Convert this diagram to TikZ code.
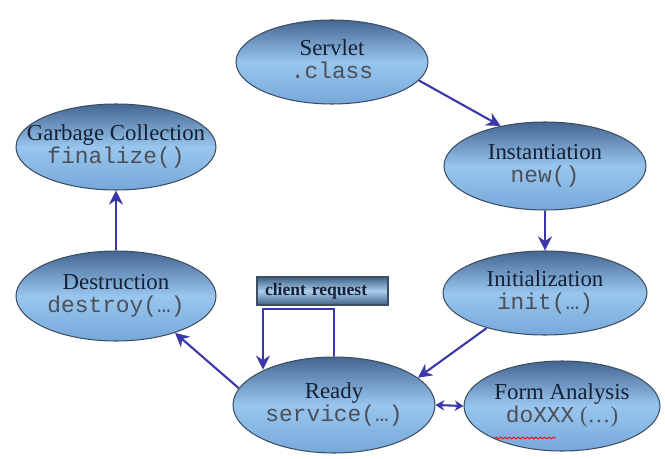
\documentclass[tikz,border=0pt]{standalone}
\usepackage{fontspec}
\setmainfont{Liberation Serif}
\setmonofont{Liberation Mono}
\usetikzlibrary{shapes.geometric,arrows.meta,decorations.pathmorphing}

\definecolor{elltop}{RGB}{68,102,146}
\definecolor{ellmid}{RGB}{152,198,238}
\definecolor{ellbot}{RGB}{118,168,218}
\definecolor{ellline}{RGB}{62,78,98}
\definecolor{crqdark}{RGB}{62,96,132}
\definecolor{crqlight}{RGB}{172,206,236}
\definecolor{flowblue}{RGB}{58,56,168}
\definecolor{txtdark}{RGB}{22,32,52}
\definecolor{codegray}{RGB}{78,78,86}

\newcommand{\stagetext}[2]{\makebox[0pt]{\begin{tabular}{@{}c@{}}#1\\[-1pt]\textcolor{codegray}{\ttfamily #2}\end{tabular}}}

\tikzset{
  stage/.style={ellipse, draw=ellline, line width=0.6pt,
    top color=elltop, bottom color=ellbot, middle color=ellmid,
    inner sep=0pt, text=txtdark, font=\fontsize{13}{14}\selectfont},
  crq/.style={rectangle, draw=ellline, line width=0.6pt,
    top color=crqdark, bottom color=crqdark, middle color=crqlight,
    minimum height=0.56cm, text width=2.3cm, inner xsep=0.16cm, inner ysep=0pt,
    align=left, text=txtdark, font=\bfseries\fontsize{10}{11}\selectfont},
  flow/.style={draw=flowblue, line width=1.2pt, -{Stealth[length=8pt,width=8pt]}},
}

\begin{document}
\begin{tikzpicture}[x=0.02cm, y=-0.02cm]
    \useasboundingbox (0,0) rectangle (665,459);

    \node[stage, minimum width=3.84cm, minimum height=1.68cm] (servlet) at (332,62) {\stagetext{Servlet}{.class}};
    \node[stage, minimum width=4.04cm, minimum height=1.76cm] (inst) at (545,166) {\stagetext{Instantiation}{new()}};
    \node[stage, minimum width=4.08cm, minimum height=1.68cm] (init) at (545,293) {\stagetext{Initialization}{init(…)}};
    \node[stage, minimum width=4cm, minimum height=1.72cm] (garbage) at (116,147) {\stagetext{Garbage Collection}{finalize()}};
    \node[stage, minimum width=4cm, minimum height=1.8cm] (destr) at (116,296) {\stagetext{Destruction}{destroy(…)}};
    \node[stage, minimum width=4.04cm, minimum height=1.92cm] (ready) at (334,405) {\stagetext{Ready}{service(…)}};
    \node[stage, minimum width=3.92cm, minimum height=1.8cm] (form) at (562,406) {\stagetext{Form Analysis}{doXXX\textrm{ (…)}}};

    \node[crq] (request) at (322.5,291) {client request};

    \coordinate (loopL) at (263,309);

    \draw[flow] (servlet.-12) -- (inst.138);
    \draw[flow] (inst.south) -- (init.north);
    \draw[flow] (init.211) -- (ready.18);
    \draw[flow] (ready.170) -- (destr.-32);
    \draw[flow] (destr.north) -- (garbage.south);
    \draw[flow] (ready.north) |- (loopL) -- (loopL |- ready.153);
    \draw[flow, {Stealth[length=5pt,width=6pt]}-{Stealth[length=5pt,width=6pt]}] (ready.east) -- (form.west);

    \draw[red, line width=0.5pt, decorate, decoration={snake, amplitude=0.5pt, segment length=2.5pt}] (495,438) -- (556,438);
\end{tikzpicture}
\end{document}
